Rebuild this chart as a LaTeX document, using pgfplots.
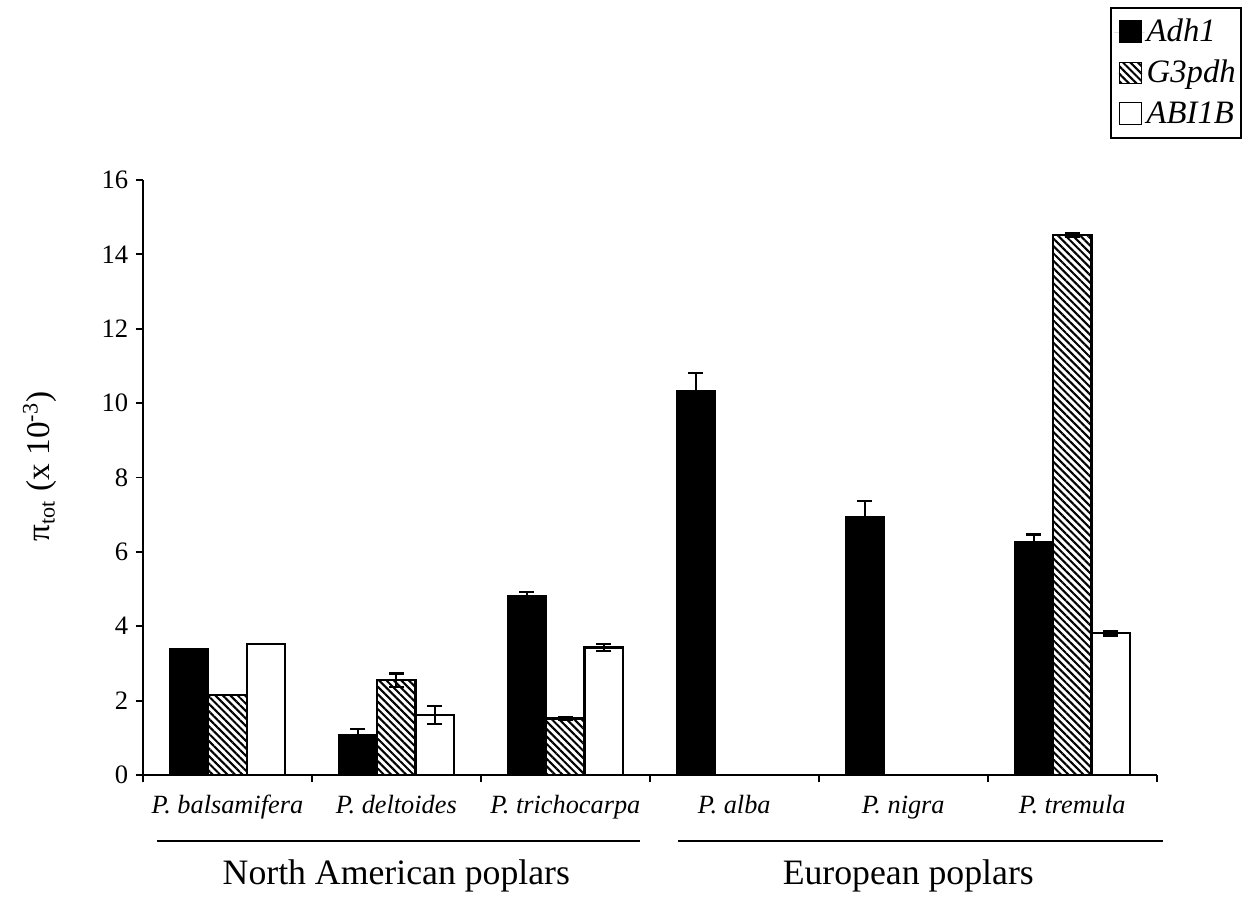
\documentclass[border=0pt]{standalone}
\usepackage{pgfplots}
\pgfplotsset{compat=1.18}
\usepackage{fontspec}
\setmainfont{Liberation Serif}
\usetikzlibrary{patterns.meta}

\begin{document}
\begin{tikzpicture}
\useasboundingbox (-51.6pt,-44pt) rectangle (397.9pt,279.8pt);
\begin{axis}[
  at={(0,0)}, anchor=south west,
  scale only axis,
  width=366pt, height=214.8pt,
  xmin=-0.5, xmax=5.5,
  ymin=0, ymax=16,
  ybar=0pt,
  bar width=0.228,
  axis x line=bottom, axis y line=left,
  axis line style={-, line width=0.8pt, black},
  clip=false,
  tick align=outside,
  ytick={0,2,...,16},
  major tick length=2.6pt,
  tick style={line width=0.7pt, black},
  /pgf/number format/assume math mode=true,
  yticklabel style={font=\fontsize{9.6}{11}\selectfont, xshift=0.8pt},
  xtick={-0.5,0.5,...,5.5},
  xticklabels={},
  extra x ticks={0,1,2,3,4,5},
  extra x tick labels={P. balsamifera, P. deltoides, P. trichocarpa, P. alba, P. nigra, P. tremula},
  extra x tick style={major tick length=0pt, tick label style={font=\fontsize{9.5}{10}\selectfont\itshape, yshift=-3pt, text height=0.72em, text depth=0.22em}},
  ylabel={π\textsubscript{tot} (x 10\textsuperscript{-3})},
  ylabel style={at={(axis description cs:-0.1016,0.519)}, anchor=center, font=\fontsize{12}{14}\selectfont},
  legend style={at={(axis description cs:1.084,1.291)}, anchor=north east,
    draw=black, line width=0.8pt, font=\fontsize{11.8}{14}\selectfont\itshape,
    inner xsep=1pt, inner ysep=2pt, row sep=1.2pt, cells={anchor=west},
    nodes={inner xsep=0.8pt}},
  legend image code/.code={\path[draw=none] (0pt,0pt) -- (11pt,0pt); \draw[#1, line width=0.4pt] (2pt,-3.6pt) rectangle (9.8pt,4.2pt);},
  error bars/y dir=both, error bars/y explicit,
  error bars/error bar style={line width=0.8pt, black},
  error bars/error mark options={rotate=90, mark size=2.7pt, line width=0.8pt, black},
]
\addplot[draw=black, fill=black, line width=0.6pt] coordinates {
  (0,3.39) +- (0,0)
  (1,1.07) +- (0,0.17)
  (2,4.82) +- (0,0.10)
  (3,10.33) +- (0,0.47)
  (4,6.94) +- (0,0.43)
  (5,6.27) +- (0,0.20)
};
\addlegendentry{Adh1}
\addplot[draw=black, line width=0.8pt, pattern={Lines[angle=-45, distance=1.9pt, line width=0.75pt]}] coordinates {
  (0,2.15) +- (0,0)
  (1,2.55) +- (0,0.18)
  (2,1.52) +- (0,0.04)
  (5,14.52) +- (0,0.06)
};
\addlegendentry{G3pdh}
\addplot[draw=black, fill=white, line width=0.8pt] coordinates {
  (0,3.52) +- (0,0)
  (1,1.61) +- (0,0.24)
  (2,3.43) +- (0,0.10)
  (5,3.81) +- (0,0.06)
};
\addlegendentry{ABI1B}
\draw[line width=0.5pt] ([yshift=-23.8pt]axis cs:-0.417,0) -- ([yshift=-23.8pt]axis cs:2.441,0);
\draw[line width=0.5pt] ([yshift=-23.8pt]axis cs:2.67,0) -- ([yshift=-23.8pt]axis cs:5.54,0);
\node[font=\fontsize{12.9}{14}\selectfont] at ([yshift=-36.6pt]axis cs:1.0,0) {North American poplars};
\node[font=\fontsize{12.9}{14}\selectfont] at ([yshift=-36.6pt]axis cs:4.03,0) {European poplars};
\end{axis}
\end{tikzpicture}
\end{document}
